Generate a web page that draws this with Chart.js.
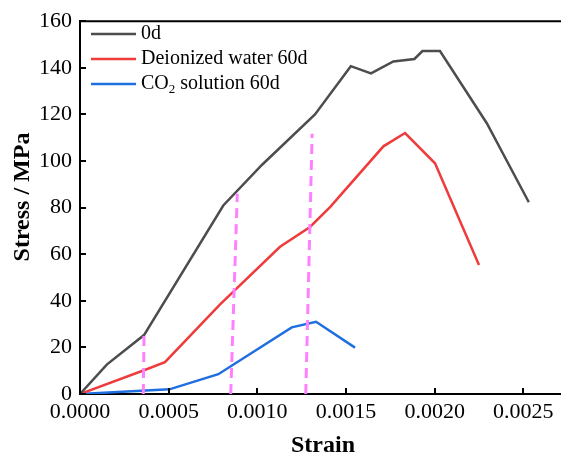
<!DOCTYPE html>
<html><head><meta charset="utf-8">
<script src="https://cdn.jsdelivr.net/npm/chart.js@4/dist/chart.umd.min.js"></script>
<style>html,body{margin:0;padding:0;overflow:hidden;background:#fff}#wrap{width:620px;height:460px;position:relative}</style>
</head><body><div id="wrap"><canvas id="c" width="620" height="460"></canvas></div>
<script>
// Series data (strain, stress MPa)
const strain0d = [0, 0.000151, 0.000361, 0.000808, 0.001027, 0.001325, 0.001527, 0.001641, 0.001767, 0.001886, 0.001931, 0.00203, 0.002294, 0.002531];
const stress0d = [0, 12.6, 25.3, 80.9, 98.4, 120.0, 140.7, 137.6, 142.7, 143.8, 147.2, 147.2, 116.2, 82.3];

const strainDI = [0, 0.000361, 0.000479, 0.00079, 0.001128, 0.001297, 0.00141, 0.001711, 0.001833, 0.002002, 0.00225];
const stressDI = [0, 10.2, 13.7, 38.5, 63.2, 71.7, 80.2, 106.3, 112.0, 99.0, 55.4];

const strainCO2 = [0, 0.000504, 0.00078, 0.001194, 0.001331, 0.001551];
const stressCO2 = [0, 2.0, 8.5, 28.6, 31.0, 19.9];

// Dashed marker lines: [bottom, top]
const markStrain1 = [0.000357, 0.000361];
const markStress1 = [0, 25.3];
const markStrain2 = [0.00085, 0.000887];
const markStress2 = [0, 86.0];
const markStrain3 = [0.001273, 0.001309];
const markStress3 = [0, 111.7];

const seriesNames = ['0d', 'Deionized water 60d', 'CO2 solution 60d'];
const seriesColors = ['#4d4d4d', '#ef3b3b', '#1f6fe0'];
const xTicks = [0, 0.0005, 0.001, 0.0015, 0.002, 0.0025];
const yTicks = [0, 20, 40, 60, 80, 100, 120, 140, 160];

const pts = (xs, ys) => xs.map((x, i) => ({x: x, y: ys[i]}));
const FONT = '"Liberation Serif", "Times New Roman", serif';

const mainDs = (i, xs, ys) => ({
  label: seriesNames[i], data: pts(xs, ys), borderColor: seriesColors[i],
  borderWidth: 2.5, pointRadius: 0, tension: 0, fill: false, order: 1
});
const markDs = (xs, ys) => ({
  label: 'mark', data: pts(xs, ys), borderColor: '#ff80ff', borderWidth: 3,
  borderDash: [10, 6], pointRadius: 0, tension: 0, fill: false, order: 0
});

const decor = {
  id: 'decor',
  afterDraw(chart) {
    const ctx = chart.ctx, a = chart.chartArea;
    const xs = chart.scales.x, ys = chart.scales.y;
    ctx.save();
    ctx.strokeStyle = '#000';
    ctx.lineWidth = 2;
    // top border
    ctx.beginPath(); ctx.moveTo(a.left - 1, a.top); ctx.lineTo(a.right, a.top); ctx.stroke();
    // inward ticks
    xTicks.forEach(v => {
      const px = Math.round(xs.getPixelForValue(v));
      ctx.beginPath(); ctx.moveTo(px, a.bottom); ctx.lineTo(px, a.bottom - 6); ctx.stroke();
    });
    yTicks.forEach(v => {
      const py = Math.round(ys.getPixelForValue(v));
      ctx.beginPath(); ctx.moveTo(a.left, py); ctx.lineTo(a.left + 6, py); ctx.stroke();
    });
    // axis titles
    ctx.fillStyle = '#000';
    ctx.font = 'bold 24px ' + FONT;
    ctx.textAlign = 'center';
    ctx.textBaseline = 'alphabetic';
    ctx.fillText('Strain', 323, 452);
    ctx.save();
    ctx.translate(29, 197);
    ctx.rotate(-Math.PI / 2);
    ctx.fillText('Stress / MPa', 0, 0);
    ctx.restore();
    // legend
    const ly = [34, 59, 84];
    ctx.font = '20px ' + FONT;
    ctx.textAlign = 'left';
    ctx.textBaseline = 'middle';
    for (let i = 0; i < 3; i++) {
      ctx.strokeStyle = seriesColors[i];
      ctx.lineWidth = 2.5;
      ctx.beginPath(); ctx.moveTo(91, ly[i]); ctx.lineTo(136, ly[i]); ctx.stroke();
      ctx.fillStyle = '#000';
      if (i < 2) {
        ctx.fillText(seriesNames[i], 141, ly[i]);
      } else {
        let x = 141;
        ctx.fillText('CO', x, ly[i]);
        x += ctx.measureText('CO').width;
        ctx.font = '13px ' + FONT;
        ctx.fillText('2', x, ly[i] + 6);
        x += ctx.measureText('2').width;
        ctx.font = '20px ' + FONT;
        ctx.fillText(' solution 60d', x, ly[i]);
      }
    }
    ctx.restore();
  }
};

new Chart(document.getElementById('c'), {
  type: 'line',
  data: {
    datasets: [
      markDs(markStrain1, markStress1),
      markDs(markStrain2, markStress2),
      markDs(markStrain3, markStress3),
      mainDs(0, strain0d, stress0d),
      mainDs(1, strainDI, stressDI),
      mainDs(2, strainCO2, stressCO2)
    ]
  },
  options: {
    responsive: false,
    devicePixelRatio: 1,
    animation: false,
    layout: {padding: {top: 16, right: 8, left: 0, bottom: 0}},
    plugins: {legend: {display: false}, tooltip: {enabled: false}},
    scales: {
      x: {
        type: 'linear', min: 0, max: 0.003,
        afterFit: s => { s.height = 66; },
        afterBuildTicks: s => { s.ticks = xTicks.map(v => ({value: v})); },
        grid: {display: false, drawTicks: false},
        border: {display: true, color: '#000', width: 2},
        ticks: {font: {family: FONT, size: 22}, color: '#000', padding: 5,
                maxRotation: 0, autoSkip: false, callback: v => v.toFixed(4)}
      },
      y: {
        type: 'linear', min: 0, max: 160,
        afterFit: s => { s.width = 80; },
        afterBuildTicks: s => { s.ticks = yTicks.map(v => ({value: v})); },
        grid: {display: false, drawTicks: false},
        border: {display: true, color: '#000', width: 2},
        ticks: {font: {family: FONT, size: 22}, color: '#000', padding: 8,
                autoSkip: false, callback: v => String(v)}
      }
    }
  },
  plugins: [decor]
});
</script>
</body></html>
